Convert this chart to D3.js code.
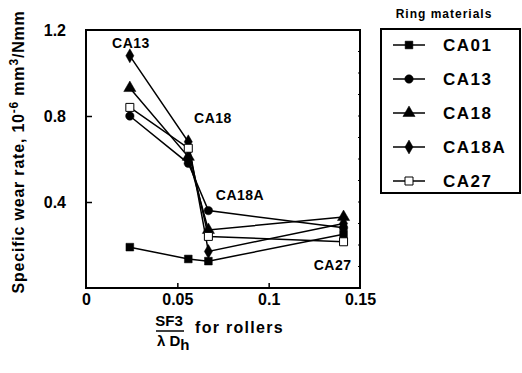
<!DOCTYPE html>
<html lang="en">
<head>
<meta charset="UTF-8">
<title>Specific wear rate vs SF3 / lambda Dh</title>
<script src="https://d3js.org/d3.v7.min.js"></script>
<style>
  body { margin: 0; background: #fff; }
  text { font-family: "Liberation Sans", Arial, sans-serif; font-weight: bold; fill: #000; }
</style>
</head>
<body>
<svg id="chart" width="522" height="373"></svg>
<script>
// values
const xVals = [0.024, 0.056, 0.067, 0.141];
const ca01  = [0.19, 0.135, 0.125, 0.25];
const ca13  = [0.80, 0.58, 0.36, 0.28];
const ca18  = [0.93, 0.61, 0.27, 0.33];
const ca18a = [1.08, 0.68, 0.17, 0.30];
const ca27  = [0.84, 0.65, 0.24, 0.215];
const seriesNames = ["CA01", "CA13", "CA18", "CA18A", "CA27"];
const xTicks = [0, 0.05, 0.1, 0.15];
const yTicks = [0.4, 0.8, 1.2];

const series = [ca01, ca13, ca18, ca18a, ca27].map((vals, i) => ({
  name: seriesNames[i],
  points: vals.map((v, j) => [xVals[j], v])
}));

const svg = d3.select("#chart");
const plotL = 86, plotT = 30, plotR = 360, plotB = 288;

const x = d3.scaleLinear().domain([0, 0.15]).range([plotL, plotR]);
const y = d3.scaleLinear().domain([0, 1.2]).range([plotB, plotT]);

const symbols = {
  CA01: d3.symbolSquare,
  CA13: d3.symbolCircle,
  CA18: d3.symbolTriangle,
  CA18A: d3.symbolDiamond,
  CA27: d3.symbolSquare
};
const sizes = { CA01: 60, CA13: 56, CA18: 64, CA18A: 56, CA27: 64 };

// frame
svg.append("rect")
  .attr("x", plotL).attr("y", plotT)
  .attr("width", plotR - plotL).attr("height", plotB - plotT)
  .attr("fill", "none").attr("stroke", "#000").attr("stroke-width", 2);

// axes with inward ticks
const xAxis = svg.append("g")
  .attr("transform", `translate(0,${plotB})`)
  .call(d3.axisBottom(x).tickValues(xTicks).tickSize(-5).tickPadding(6)
    .tickFormat(d => d === 0 ? "0" : String(d)));
xAxis.select(".domain").remove();
xAxis.selectAll("text").attr("font-size", 16).style("font-family", "Liberation Sans, Arial, sans-serif").style("font-weight", "bold");
xAxis.selectAll(".tick line").attr("stroke-width", 1.5)
  .filter(d => d === 0 || d === 0.15).remove();

const yAxis = svg.append("g")
  .attr("transform", `translate(${plotL},0)`)
  .call(d3.axisLeft(y).tickValues(yTicks).tickSize(-6).tickPadding(20)
    .tickFormat(d3.format(".1f")));
yAxis.select(".domain").remove();
yAxis.selectAll("text").attr("font-size", 16).style("font-family", "Liberation Sans, Arial, sans-serif").style("font-weight", "bold");
yAxis.selectAll(".tick line").attr("stroke-width", 1.5)
  .filter(d => d === 1.2).remove();

// small ticks on right edge
svg.append("g")
  .selectAll("line")
  .data(d3.range(0.1, 1.2, 0.1))
  .join("line")
  .attr("x1", plotR).attr("x2", plotR - 2)
  .attr("y1", d => y(d)).attr("y2", d => y(d))
  .attr("stroke", "#000").attr("stroke-width", 1);

// series lines and markers
const line = d3.line().x(d => x(d[0])).y(d => y(d[1]));

svg.append("g").selectAll("path")
  .data(series)
  .join("path")
  .attr("d", d => line(d.points))
  .attr("fill", "none")
  .attr("stroke", "#000")
  .attr("stroke-width", 1.5);

series.forEach(s => {
  svg.append("g").selectAll("path")
    .data(s.points)
    .join("path")
    .attr("transform", d => `translate(${x(d[0])},${y(d[1])})`)
    .attr("d", d3.symbol().type(symbols[s.name]).size(sizes[s.name]))
    .attr("fill", s.name === "CA27" ? "#fff" : "#000")
    .attr("stroke", "#000")
    .attr("stroke-width", s.name === "CA27" ? 1 : 0.5);
});

// labels inside the plot
const inLabels = [
  { text: "CA13", x: 0.0246, y: 1.14 },
  { text: "CA18", x: 0.0695, y: 0.79 },
  { text: "CA18A", x: 0.0843, y: 0.432 },
  { text: "CA27", x: 0.135, y: 0.107 }
];
svg.append("g").selectAll("text")
  .data(inLabels)
  .join("text")
  .attr("x", d => x(d.x)).attr("y", d => y(d.y))
  .attr("dy", "0.35em")
  .attr("text-anchor", "middle")
  .attr("font-size", 14)
  .attr("letter-spacing", 0.5)
  .text(d => d.text);

// y axis title
const yTitle = svg.append("text")
  .attr("transform", "translate(24,152) rotate(-90)")
  .attr("text-anchor", "middle")
  .attr("font-size", 16)
  .attr("letter-spacing", 0.8);
yTitle.append("tspan").text("Specific wear rate, 10");
yTitle.append("tspan").attr("dy", -6).attr("font-size", 12).text("-6");
yTitle.append("tspan").attr("dy", 6).text(" mm");
yTitle.append("tspan").attr("dy", -6).attr("font-size", 12).text("3");
yTitle.append("tspan").attr("dy", 6).text("/Nmm");

// x axis title: fraction
svg.append("text").attr("x", 169).attr("y", 326).attr("text-anchor", "middle")
  .attr("font-size", 15).text("SF3");
svg.append("line").attr("x1", 156).attr("x2", 184).attr("y1", 331).attr("y2", 331)
  .attr("stroke", "#000").attr("stroke-width", 1.5);
const den = svg.append("text").attr("x", 157).attr("y", 346).attr("font-size", 15);
den.append("tspan").text("\u03bb D");
den.append("tspan").attr("dy", 4).attr("font-size", 15).text("h");
svg.append("text").attr("x", 195).attr("y", 333).attr("font-size", 16)
  .attr("letter-spacing", 1.3).text("for rollers");

// legend
svg.append("text").attr("x", 444).attr("y", 18).attr("text-anchor", "middle")
  .attr("font-size", 12).attr("letter-spacing", 1).text("Ring materials");
svg.append("rect").attr("x", 381).attr("y", 29).attr("width", 139).attr("height", 164)
  .attr("fill", "none").attr("stroke", "#000").attr("stroke-width", 2);

const legY = d3.scalePoint().domain(seriesNames).range([45, 181]);
const leg = svg.append("g").selectAll("g")
  .data(seriesNames)
  .join("g")
  .attr("transform", d => `translate(0,${legY(d)})`);
leg.append("line").attr("x1", 393).attr("x2", 425)
  .attr("stroke", "#000").attr("stroke-width", 1.5);
leg.append("path")
  .attr("transform", "translate(409,0)")
  .attr("d", d => d3.symbol().type(symbols[d]).size(sizes[d])())
  .attr("fill", d => d === "CA27" ? "#fff" : "#000")
  .attr("stroke", "#000").attr("stroke-width", d => d === "CA27" ? 1 : 0.5);
leg.append("text").attr("x", 443).attr("dy", "0.36em")
  .attr("font-size", 17).attr("letter-spacing", 1.5)
  .text(d => d);
</script>
</body>
</html>
